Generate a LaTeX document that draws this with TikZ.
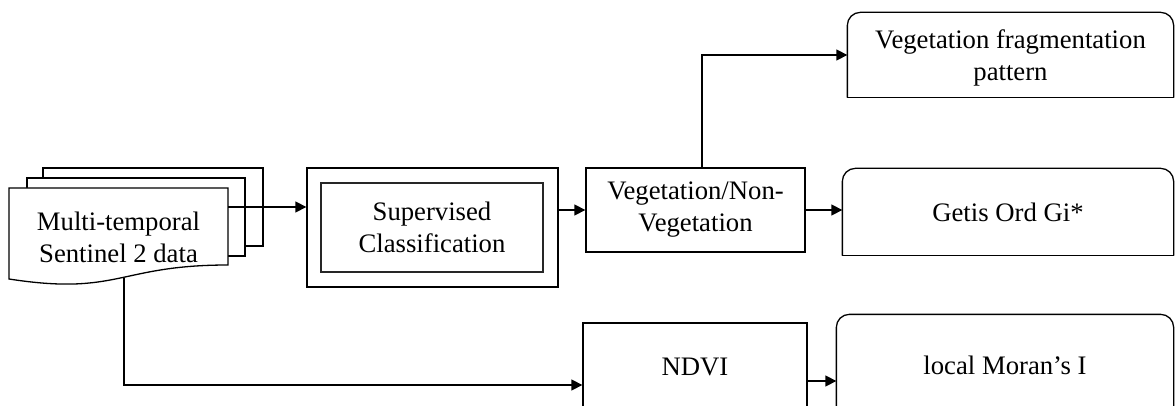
\documentclass[tikz,border=0pt]{standalone}
\usepackage{fontspec}
\setmainfont{Liberation Serif}
\usetikzlibrary{arrows.meta}
\begin{document}
\begin{tikzpicture}[x=1pt,y=-1pt,line width=1.3pt,
  txt/.style={align=center,font=\fontsize{26.7}{32}\selectfont,inner sep=0pt},
  sqbox/.style={txt,draw},
  rtop/.style={txt},
  rtopline/.style={rounded corners=13pt},
  arr/.style={-{Triangle[length=11pt,width=11pt]}}]
\useasboundingbox (0,0) rectangle (1176,406);
\clip (0,0) rectangle (1176,406);

% document stack
\draw[fill=white] (43,168) rectangle (263,246);
\draw[fill=white] (27,178) rectangle (245,256);
\draw[fill=white] (9,188) -- (228,188) -- (228,265)
  .. controls (118.5,265) and (118.5,296) .. (9,279) -- cycle;
\node[txt,minimum width=219pt,minimum height=90pt] (doc) at (118.5,237) {Multi-temporal\\Sentinel 2 data};
\coordinate (docb) at (124,278);
\coordinate (docr) at (228,207);

% supervised classification
\node[draw,minimum width=251pt,minimum height=119pt] (sup) at (432.5,227.5) {};
\node[sqbox,draw=black!85,line width=1.1pt,minimum width=222pt,minimum height=89pt] (supin) at (432,227.5) {Supervised\\Classification};

% vegetation / non-vegetation
\node[sqbox,minimum width=219pt,minimum height=84pt] (veg) at (695.5,210) {Vegetation/Non-\\Vegetation};

% NDVI
\node[sqbox,minimum width=224pt,minimum height=88pt] (ndvi) at (695,367) {NDVI};

% rounded-top boxes
\node[rtop,minimum width=325pt,minimum height=84pt,yshift=-3pt] (fragt) at (1010.5,55) {Vegetation fragmentation\\pattern};
\node[minimum width=325pt,minimum height=84pt,inner sep=0pt] (frag) at (1010.5,55) {};
\node[rtop,minimum width=330pt,minimum height=86pt] (getis) at (1008,212) {Getis Ord Gi*};
\node[rtop,minimum width=336pt,minimum height=100pt] (moran) at (1005,365) {local Moran's I};
\foreach \n in {frag,getis,moran}{
  \draw[rtopline] (\n.south west) -- (\n.north west) -- (\n.north east) -- (\n.south east);
  \draw (\n.south west) -- (\n.south east);
}

% connectors
\draw[arr] (docr) -- (docr -| sup.west);
\draw[arr] (sup.east |- veg.west) -- (veg.west);
\draw[arr] (veg.east) -- (veg.east -| getis.west);
\draw[arr] ([xshift=6.5pt]veg.north) |- (frag.west);
\draw[arr] (docb) |- ([yshift=-18pt]ndvi.west);
\draw[arr] ([yshift=-14pt]ndvi.east) -- ([yshift=-14pt]ndvi.east -| moran.west);
\end{tikzpicture}
\end{document}
